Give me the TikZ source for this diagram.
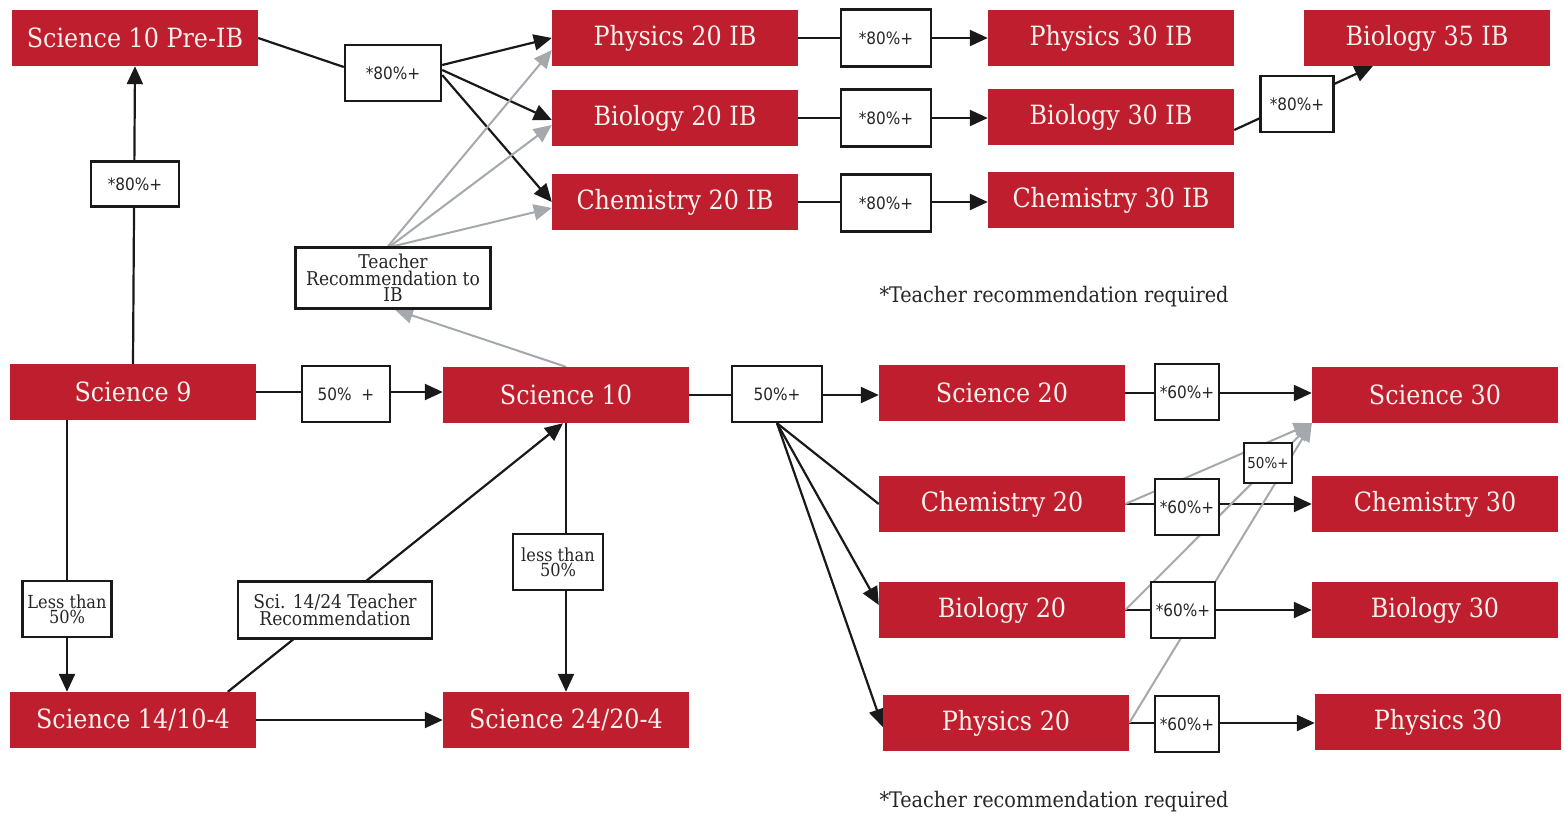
\documentclass[tikz,border=0pt]{standalone}
\usepackage{fontspec}
\usetikzlibrary{arrows.meta,calc}
\newfontfamily\rfont{DejaVu Serif Condensed}
\newfontfamily\sfont{DejaVu Sans Condensed}
\definecolor{ibred}{RGB}{190,30,46}
\definecolor{cream}{RGB}{250,242,236}
\definecolor{lgray}{RGB}{165,168,172}
\pgfdeclarelayer{back}
\pgfdeclarelayer{bg}
\pgfsetlayers{back,bg,main}
\begin{document}
\begin{tikzpicture}[x=1pt,y=-1pt,
 redbox/.style={fill=ibred,text=cream,minimum width=246pt,minimum height=56pt,inner sep=0pt,font=\rfont\fontsize{26.5}{28}\selectfont},
 lab/.style={draw=black!90,line width=2.4pt,fill=white,inner sep=0pt,align=center,text=black!85},
 pct/.style={lab,font=\sfont\fontsize{17}{18}\selectfont},
 note/.style={lab,font=\rfont\fontsize{18}{15}\selectfont},
 widenote/.style={lab,font=\rfont\fontsize{19}{16.5}\selectfont},
 conn/.style={line width=2.2pt,draw=black!90},
 arr/.style={conn,-{Triangle[length=18pt,width=16pt]}},
 garr/.style={line width=2pt,draw=lgray,-{Triangle[length=18pt,width=16pt]}},
 foot/.style={font=\rfont\fontsize{21.4}{22}\selectfont,text=black!85,inner sep=0pt},
]
\begin{pgfonlayer}{back}
\fill[white] (0,0) rectangle (1565,815);
\end{pgfonlayer}
\useasboundingbox (0,0) rectangle (1565,815);

% red course boxes
\node[redbox] (preib) at (135,38) {Science 10 Pre-IB};
\node[redbox] (p20ib) at (675,38) {Physics 20 IB};
\node[redbox] (b20ib) at (675,118) {Biology 20 IB};
\node[redbox] (c20ib) at (675,202) {Chemistry 20 IB};
\node[redbox] (p30ib) at (1111,38) {Physics 30 IB};
\node[redbox] (b30ib) at (1111,117) {Biology 30 IB};
\node[redbox] (c30ib) at (1111,200) {Chemistry 30 IB};
\node[redbox] (b35ib) at (1427,38) {Biology 35 IB};
\node[redbox] (sci9) at (133,392) {Science 9};
\node[redbox] (sci10) at (566,395) {Science 10};
\node[redbox] (sci20) at (1002,393) {Science 20};
\node[redbox] (chem20) at (1002,504) {Chemistry 20};
\node[redbox] (bio20) at (1002,610) {Biology 20};
\node[redbox] (phys20) at (1006,723) {Physics 20};
\node[redbox] (sci30) at (1435,395) {Science 30};
\node[redbox] (chem30) at (1435,504) {Chemistry 30};
\node[redbox] (bio30) at (1435,610) {Biology 30};
\node[redbox] (phys30) at (1438,722) {Physics 30};
\node[redbox] (sci14) at (133,720) {Science 14/10-4};
\node[redbox] (sci24) at (566,720) {Science 24/20-4};

% label boxes
\node[pct,minimum width=96pt,minimum height=56pt] (la) at (393,73) {*80\%+};
\node[pct,minimum width=88pt,minimum height=45pt] (lb) at (135,184) {*80\%+};
\node[widenote,minimum width=195pt,minimum height=61pt] (teach) at (393,278) {Teacher\\Recommendation to\\IB};
\node[pct,minimum width=90pt,minimum height=57pt] (lp) at (886,38) {*80\%+};
\node[pct,minimum width=90pt,minimum height=57pt] (lbi) at (886,118) {*80\%+};
\node[pct,minimum width=90pt,minimum height=57pt] (lc) at (886,203) {*80\%+};
\node[pct,minimum width=73pt,minimum height=56pt] (l35) at (1297,104) {*80\%+};
\node[pct,minimum width=88pt,minimum height=56pt] (l9) at (346,394) {50\%\ \ +};
\node[pct,minimum width=90pt,minimum height=56pt] (l10) at (777,394) {50\%+};
\node[pct,minimum width=64pt,minimum height=56pt] (l6a) at (1187,392) {*60\%+};
\node[pct,minimum width=64pt,minimum height=56pt] (l6b) at (1187,507) {*60\%+};
\node[pct,minimum width=64pt,minimum height=56pt] (l6c) at (1183,610) {*60\%+};
\node[pct,minimum width=64pt,minimum height=56pt] (l6d) at (1187,724) {*60\%+};
\node[pct,minimum width=48pt,minimum height=40pt,font=\sfont\fontsize{15}{16}\selectfont] (l5s) at (1268,463) {50\%+};
\node[note,minimum width=89pt,minimum height=56pt] (lless) at (67,609) {Less than\\50\%};
\node[widenote,minimum width=194pt,minimum height=57pt] (l1424) at (335,610) {Sci. 14/24 Teacher\\Recommendation};
\node[note,minimum width=90pt,minimum height=56pt] (lless2) at (558,562) {less than\\50\%};

% footnotes
\node[foot] (f1) at (1054,297) {*Teacher recommendation required};
\node[foot] (f2) at (1054,802) {*Teacher recommendation required};

\begin{pgfonlayer}{bg}
% IB branch
\draw[conn] (preib.east) -- ($(la.west)+(0,-6)$);
\draw[arr] ($(la.east)+(0,-8)$) -- (p20ib.west);
\draw[arr] ($(la.east)+(0,-3)$) -- ($(b20ib.west)+(0,2)$);
\draw[arr] ($(la.east)+(0,2)$) -- (c20ib.west);
\draw[garr] ($(teach.north)+(-5,0)$) -- ($(p20ib.west)+(0,12)$);
\draw[garr] ($(teach.north)+(-3,0)$) -- ($(b20ib.west)+(0,7)$);
\draw[garr] (teach.north) -- ($(c20ib.west)+(0,6)$);
\draw[garr] (sci10.north) -- ($(teach.south)+(2,0)$);
\draw[arr] (p20ib.east) -- (p20ib.east -| p30ib.west);
\draw[arr] (b20ib.east) -- (b20ib.east -| b30ib.west);
\draw[arr] (c20ib.east) -- (c20ib.east -| c30ib.west);
\draw[arr] ($(b30ib.east)+(0,13)$) -- ($(b35ib.south west)+(69,0)$);
% main path
\draw[arr] (sci9.north) -- (preib.south);
\draw[arr] (sci9.east) -- (sci9.east -| sci10.west);
\draw[arr] (sci10.east) -- (sci10.east -| sci20.west);
\draw[conn] (l10.south) -- (chem20.west);
\draw[arr] (l10.south) -- ($(bio20.west)+(0,-5)$);
\draw[arr] (l10.south) -- ($(phys20.west)+(0,4)$);
\draw[arr] (sci20.east) -- (sci20.east -| sci30.west);
\draw[arr] (chem20.east) -- (chem20.east -| chem30.west);
\draw[arr] (bio20.east) -- (bio20.east -| bio30.west);
\draw[arr] (phys20.east) -- (phys20.east -| phys30.west);
\draw[garr] (chem20.east) -- (sci30.south west);
\draw[garr] (bio20.east) -- (sci30.south west);
\draw[garr] (phys20.east) -- (sci30.south west);
% lower path
\draw[arr] (lless.north |- sci9.south) -- (lless.south |- sci14.north);
\draw[arr] ($(sci14.north west)+(218,0)$) -- ($(sci10.south)+(-3,0)$);
\draw[arr] (sci10.south) -- (sci24.north);
\draw[arr] (sci14.east) -- (sci14.east -| sci24.west);
\end{pgfonlayer}
\end{tikzpicture}
\end{document}
